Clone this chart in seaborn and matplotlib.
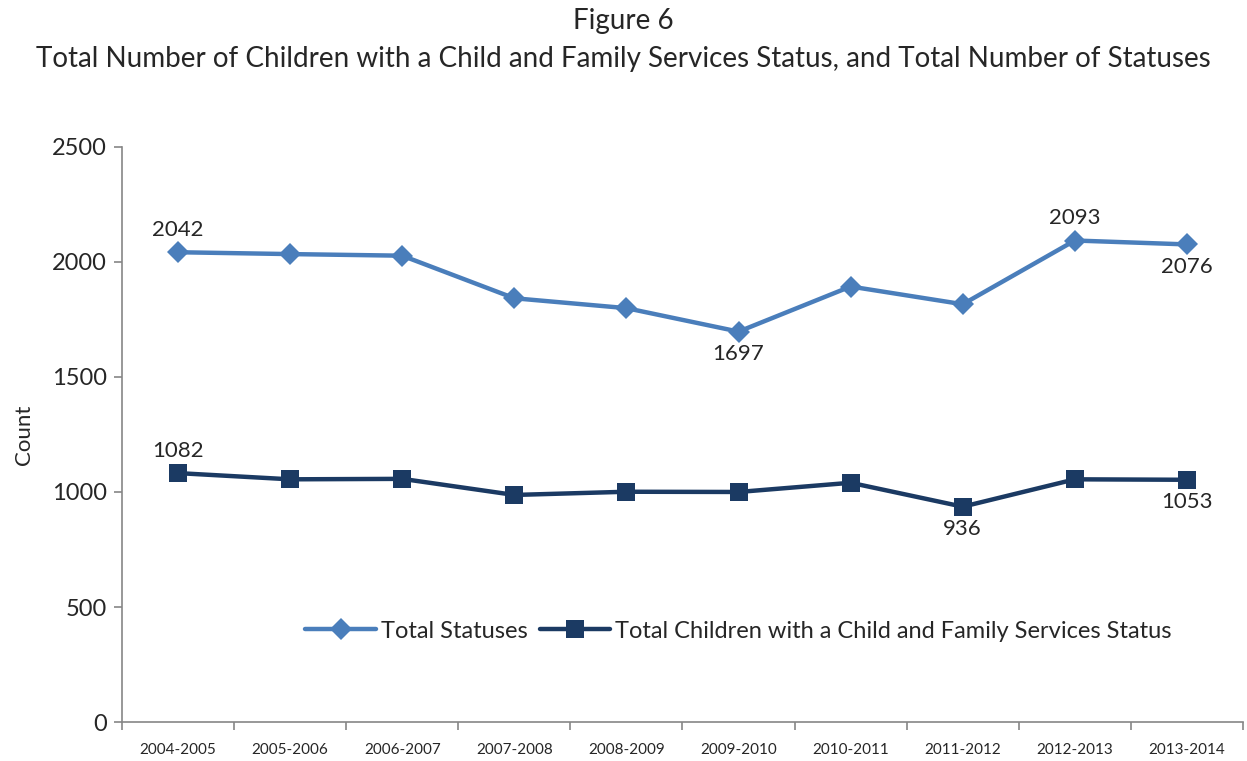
import matplotlib
matplotlib.use("Agg")
import matplotlib.pyplot as plt
import seaborn as sns
import pandas as pd
import numpy as np

years = ["2004-2005", "2005-2006", "2006-2007", "2007-2008", "2008-2009",
         "2009-2010", "2010-2011", "2011-2012", "2012-2013", "2013-2014"]
total_statuses = [2042, 2034, 2027, 1842, 1799, 1697, 1893, 1816, 2093, 2076]
total_children = [1082, 1055, 1057, 987, 1001, 1000, 1040, 936, 1055, 1053]
series_names = ["Total Statuses", "Total Children with a Child and Family Services Status"]
title_lines = ["Figure 6", "Total Number of Children with a Child and Family Services Status, and Total Number of Statuses"]

sns.set_theme(style="white")
plt.rcParams['font.family'] = ['Lato', 'DejaVu Sans']

df = pd.DataFrame({
    "year": years * 2,
    "count": total_statuses + total_children,
    "series": [series_names[0]] * len(years) + [series_names[1]] * len(years),
})

colors = {series_names[0]: "#4A7EBB", series_names[1]: "#1B3A63"}
markers = {series_names[0]: "D", series_names[1]: "s"}

fig = plt.figure(figsize=(12.47, 7.61), dpi=100)
ax = fig.add_axes([0.0978, 0.0512, 0.899, 0.7558])

sns.lineplot(data=df, x="year", y="count", hue="series", style="series",
             palette=colors, markers=markers, dashes=False, linewidth=3.2,
             markersize=11.5, markeredgewidth=0, ax=ax, sort=False)
for line in ax.lines:
    if line.get_marker() == "s":
        line.set_markersize(13.5)

ax.set_xlim(-0.5, len(years) - 0.5)
ax.set_ylim(0, 2500)
ax.set_yticks(np.arange(0, 2501, 500))
ax.tick_params(axis="y", labelsize=17, length=6, color="#868686", width=1.2, left=True, pad=5)
ax.set_xticks(range(len(years)))
ax.set_xticklabels(years, fontsize=11)
ax.set_xticks(np.arange(-0.5, len(years), 1), minor=True)
ax.tick_params(axis="x", which="major", length=0, pad=15)
ax.tick_params(axis="x", which="minor", length=6, color="#868686", width=1.2, bottom=True)

for s in ["top", "right"]:
    ax.spines[s].set_visible(False)
for s in ["left", "bottom"]:
    ax.spines[s].set_color("#868686")
    ax.spines[s].set_linewidth(1.2)

ax.set_xlabel("")
ax.set_ylabel("Count", fontsize=16, labelpad=13)

def lab(i, vals, above):
    off = 9 if above else -9
    ax.annotate(str(vals[i]), (i, vals[i]), xytext=(0, off), textcoords="offset points",
                ha="center", va="bottom" if above else "top", fontsize=16)

lab(0, total_statuses, True)
lab(5, total_statuses, False)
lab(8, total_statuses, True)
lab(9, total_statuses, False)
lab(0, total_children, True)
lab(7, total_children, False)
lab(9, total_children, False)

leg = ax.legend(loc="center", bbox_to_anchor=(0.55, 0.158), ncol=2, frameon=False,
                fontsize=17, handlelength=3, columnspacing=0.5, handletextpad=0.2)

fig.text(0.5, 0.99, title_lines[0], ha="center", va="top", fontsize=20)
fig.text(0.5, 0.94, title_lines[1], ha="center", va="top", fontsize=20)

fig.savefig("out.png", dpi=100)
